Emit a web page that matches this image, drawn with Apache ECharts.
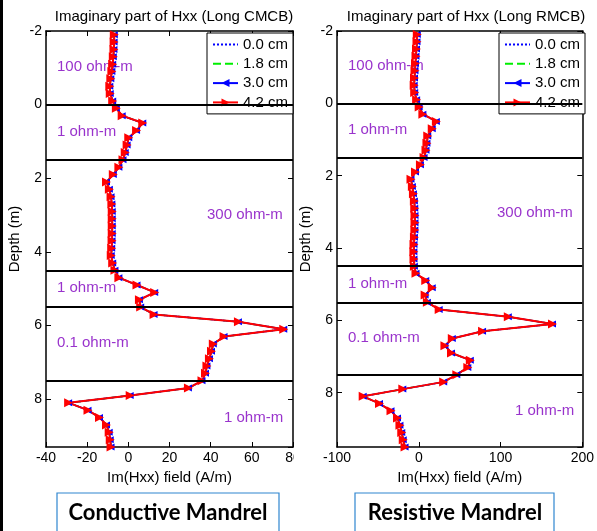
<!DOCTYPE html>
<html>
<head>
<meta charset="utf-8">
<title>Imaginary part of Hxx</title>
<script src="https://cdn.jsdelivr.net/npm/echarts@6/dist/echarts.min.js"></script>
<style>
  html, body { margin: 0; padding: 0; background: #fff; }
  #main { width: 597px; height: 531px; }
</style>
</head>
<body>
<div id="main"></div>
<script>
// depth samples (m)
var depthCmcb = [-1.9, -1.7, -1.5, -1.3, -1.1, -0.9, -0.7, -0.5, -0.3, -0.1,
  0.1, 0.3, 0.5, 0.7, 0.9, 1.1, 1.3, 1.5, 1.7, 1.9,
  2.1, 2.3, 2.5, 2.7, 2.9, 3.1, 3.3, 3.5, 3.7, 3.9,
  4.1, 4.3, 4.5, 4.7, 4.9, 5.1, 5.3, 5.5, 5.7, 5.9,
  6.1, 6.3, 6.5, 6.7, 6.9, 7.1, 7.3, 7.5, 7.7, 7.9,
  8.1, 8.3, 8.5, 8.7, 8.9, 9.1, 9.3];
var depthRmcb = [-1.9, -1.7, -1.5, -1.3, -1.1, -0.9, -0.7, -0.5, -0.3, -0.1,
  0.1, 0.3, 0.5, 0.7, 0.9, 1.1, 1.3, 1.5, 1.7, 1.9,
  2.1, 2.3, 2.5, 2.7, 2.9, 3.1, 3.3, 3.5, 3.7, 3.9,
  4.1, 4.3, 4.5, 4.7, 4.9, 5.1, 5.3, 5.5, 5.7, 5.9,
  6.1, 6.3, 6.5, 6.7, 6.9, 7.1, 7.3, 7.5, 7.7, 7.9,
  8.1, 8.3, 8.5, 8.7, 8.9, 9.1, 9.3, 9.5];

// Im(Hxx) (A/m), long CMCB - all four offsets overlap
var imCmcb = [-6.8, -6.9, -7.0, -7.3, -7.6, -8.0, -8.5, -9.0, -8.8, -7.6,
  -5.8, -3.0, 7.0, 4.0, 0.2, -0.6, -1.5, -2.6, -4.6, -7.3,
  -10.6, -9.2, -8.4, -8.0, -7.8, -7.8, -7.8, -7.8, -7.9, -8.1,
  -8.3, -7.6, -6.5, -4.6, 4.2, 12.8, 5.4, 6.0, 12.5, 53.5,
  75.5, 46.5, 41.3, 40.4, 39.4, 38.2, 37.5, 35.8, 29.2, 0.9,
  -29.0, -19.6, -14.0, -10.6, -9.3, -8.8, -8.4];

// Im(Hxx) (A/m), long RMCB
var imRmcb = [-1.8, -2.2, -2.8, -3.4, -4.0, -4.6, -5.2, -5.6, -5.0, -2.6,
  0.5, 5.0, 21.5, 16.5, 11.0, 10.0, 8.8, 6.5, 2.0, -4.0,
  -9.5, -7.8, -6.5, -5.4, -4.9, -4.6, -4.6, -4.8, -5.3, -5.8,
  -6.0, -5.8, -5.4, -3.4, 8.5, 16.5, 7.8, 10.5, 25.0, 109.5,
  163.5, 78.0, 41.0, 32.0, 40.0, 63.0, 60.0, 46.5, 30.5, -19.5,
  -68.0, -48.0, -34.0, -26.0, -23.0, -20.8, -19.0, -16.8];

var offsets = ['0.0 cm', '1.8 cm', '3.0 cm', '4.2 cm'];
var layerTops = [0, 1.5, 4.5, 5.5, 7.5];
var layersCmcb = ['100 ohm-m', '1 ohm-m', '300 ohm-m', '1 ohm-m', '0.1 ohm-m', '1 ohm-m'];
var layersRmcb = ['100 ohm-m', '1 ohm-m', '300 ohm-m', '1 ohm-m', '0.1 ohm-m', '1 ohm-m'];

var FONT = "'Liberation Sans', Arial, sans-serif";
var PURPLE = '#9933cc';

var chart = echarts.init(document.getElementById('main'));

function pairs(xs, ys) {
  return xs.map(function (v, i) { return [v, ys[i]]; });
}

// bottom/top x axis of one panel
function xAxisOf(grid, min, max, step, top) {
  return {
    type: 'value', gridIndex: grid, position: top ? 'top' : 'bottom',
    min: min, max: max, interval: step,
    name: top ? '' : 'Im(Hxx) field (A/m)',
    nameLocation: 'middle', nameGap: 21,
    nameTextStyle: { fontFamily: FONT, fontSize: 15, color: '#000' },
    axisLine: { show: true, onZero: false, lineStyle: { color: '#000', width: 1.5 } },
    axisTick: { show: true, inside: true, length: 5, lineStyle: { color: '#000' } },
    axisLabel: { show: !top, margin: 4, fontFamily: FONT, fontSize: 14, color: '#000' },
    splitLine: { show: false }
  };
}

// left/right depth axis of one panel
function yAxisOf(grid, max, right) {
  return {
    type: 'value', gridIndex: grid, position: right ? 'right' : 'left',
    inverse: true, min: -2, max: max, interval: 2,
    name: right ? '' : 'Depth (m)',
    nameLocation: 'middle', nameGap: 24,
    nameTextStyle: { fontFamily: FONT, fontSize: 15, color: '#000' },
    axisLine: { show: true, onZero: false, lineStyle: { color: '#000', width: 1.5 } },
    axisTick: { show: true, inside: true, length: 5, lineStyle: { color: '#000' } },
    axisLabel: { show: !right, margin: 4, showMaxLabel: false, fontFamily: FONT, fontSize: 14, color: '#000' },
    splitLine: { show: false }
  };
}

function panelSeries(ax, depths, values) {
  var data = pairs(values, depths);
  var base = { type: 'line', xAxisIndex: ax, yAxisIndex: ax, data: data, silent: true };
  return [
    // layer boundaries
    {
      type: 'line', xAxisIndex: ax, yAxisIndex: ax, data: [], silent: true,
      markLine: {
        symbol: ['none', 'none'], silent: true, label: { show: false },
        lineStyle: { color: '#000', width: 2, type: 'solid' },
        data: layerTops.map(function (d) { return { yAxis: d }; })
      }
    },
    Object.assign({}, base, {
      name: offsets[0], symbol: 'none', color: '#0000ff',
      lineStyle: { color: '#0000ff', width: 1.5, type: 'dotted' }
    }),
    Object.assign({}, base, {
      name: offsets[1], symbol: 'none', color: '#00ee00',
      lineStyle: { color: '#00ee00', width: 1.5, type: 'dashed' }
    }),
    Object.assign({}, base, {
      name: offsets[2], symbol: 'triangle', symbolSize: 7, symbolRotate: 90, color: '#0000ff',
      itemStyle: { color: '#0000ff' }, lineStyle: { color: '#0000ff', width: 1.5 }
    }),
    Object.assign({}, base, {
      name: offsets[3], symbol: 'triangle', symbolSize: 9, symbolRotate: -90, color: '#ff0000',
      itemStyle: { color: '#ff0000' }, lineStyle: { color: '#ff0000', width: 2 }
    })
  ];
}

function legendOf(left) {
  return {
    // plain line entries get no marker in the key
    data: offsets.map(function (n, i) {
      return i < 2 ? { name: n, itemStyle: { opacity: 0 } } : n;
    }),
    orient: 'vertical', left: left, top: 33,
    backgroundColor: '#fff', borderColor: '#000', borderWidth: 1,
    padding: [4, 5, 4, 5], itemGap: 4.3, itemWidth: 25, itemHeight: 10,
    textStyle: { fontFamily: FONT, fontSize: 15, lineHeight: 15, color: '#000' },
    selectedMode: false
  };
}

function purple(text, x, y) {
  return {
    type: 'text', x: x, y: y, silent: true,
    style: { text: text, fill: PURPLE, font: '15px ' + FONT, verticalAlign: 'middle' }
  };
}

function caption(text, cx, x, w) {
  return [
    { type: 'rect', z: 100, shape: { x: x, y: 493, width: w, height: 50 },
      style: { fill: '#fff', stroke: '#2f86d0', lineWidth: 1.2 } },
    { type: 'text', z: 101, x: cx, y: 513,
      style: { text: text, fill: '#000', font: 'bold 22px Lato, ' + FONT, align: 'center', verticalAlign: 'middle' } }
  ];
}

var option = {
  animation: false,
  backgroundColor: '#fff',
  title: [
    { text: 'Imaginary part of Hxx (Long CMCB)', left: 169, top: 4, textAlign: 'center',
      textStyle: { fontFamily: FONT, fontSize: 15, fontWeight: 'normal', color: '#000' } },
    { text: 'Imaginary part of Hxx (Long RMCB)', left: 461, top: 4, textAlign: 'center',
      textStyle: { fontFamily: FONT, fontSize: 15, fontWeight: 'normal', color: '#000' } }
  ],
  legend: [legendOf(207), legendOf(499)],
  grid: [
    { left: 46, top: 31, width: 247, height: 416 },
    { left: 337, top: 31, width: 248, height: 416 }
  ],
  xAxis: [
    xAxisOf(0, -40, 80, 20, false),
    xAxisOf(1, -100, 200, 100, false),
    xAxisOf(0, -40, 80, 20, true),
    xAxisOf(1, -100, 200, 100, true)
  ],
  yAxis: [
    yAxisOf(0, 9.3, false),
    yAxisOf(1, 9.5, false),
    yAxisOf(0, 9.3, true),
    yAxisOf(1, 9.5, true)
  ],
  series: [].concat(
    panelSeries(0, depthCmcb, imCmcb),
    panelSeries(1, depthRmcb, imRmcb)
  ),
  graphic: [].concat(
    [
      purple(layersCmcb[0], 57, 67), purple(layersCmcb[1], 57, 132),
      purple(layersCmcb[2], 207, 215), purple(layersCmcb[3], 57, 288),
      purple(layersCmcb[4], 57, 343), purple(layersCmcb[5], 224, 418),
      purple(layersRmcb[0], 348, 66), purple(layersRmcb[1], 348, 130),
      purple(layersRmcb[2], 497, 213), purple(layersRmcb[3], 348, 284),
      purple(layersRmcb[4], 348, 338), purple(layersRmcb[5], 515, 411),
      // left panel was cropped here, hiding the last tick digit
      { type: 'rect', z: 100, shape: { x: 294, y: 450, width: 24, height: 18 }, style: { fill: '#fff' } },
      // dark strip on the left border of the screenshot
      { type: 'rect', z: 100, shape: { x: 0, y: 0, width: 3, height: 531 }, style: { fill: '#000' } }
    ],
    caption('Conductive Mandrel', 168, 57, 222),
    caption('Resistive Mandrel', 455, 355, 199)
  )
};

chart.setOption(option);
</script>
</body>
</html>
